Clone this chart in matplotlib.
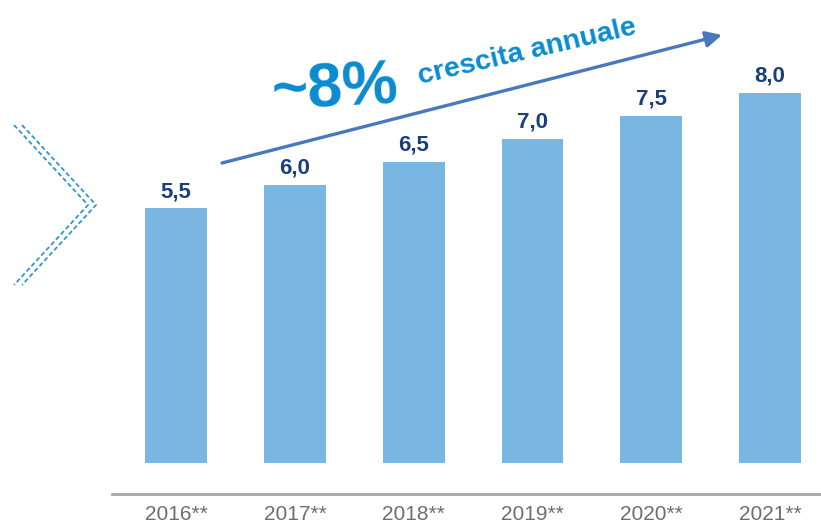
import matplotlib.pyplot as plt

# dati
anni = ["2016**", "2017**", "2018**", "2019**", "2020**", "2021**"]
valori = [5.5, 6.0, 6.5, 7.0, 7.5, 8.0]
etichette = ["5,5", "6,0", "6,5", "7,0", "7,5", "8,0"]

plt.rcParams['font.family'] = ['Liberation Sans', 'DejaVu Sans']

W, H = 821, 523
fig = plt.figure(figsize=(W / 100, H / 100), dpi=100)

# asse principale (in pixel: da x=112 a 821, da y=0 a 494)
ax = fig.add_axes([112 / W, (H - 494) / H, 709 / W, 494 / H])
x = range(len(anni))
bars = ax.bar(x, valori, width=0.52, color="#7AB6E2")
ax.set_xlim(-0.54, 5.43)
ax.set_ylim(-0.67, 10.0)

for b, lab in zip(bars, etichette):
    ax.annotate(lab, (b.get_x() + b.get_width() / 2, b.get_height()),
                xytext=(0, 4.5), textcoords="offset points",
                ha="center", va="bottom", fontsize=16, fontweight="bold",
                color="#183F7E")

ax.set_xticks(list(x))
ax.set_xticklabels(anni, fontsize=15, color="#6E6E6E")
ax.tick_params(axis="x", length=0, pad=8)
ax.set_yticks([])
for s in ["top", "right", "left"]:
    ax.spines[s].set_visible(False)
ax.spines["bottom"].set_color("#A6A6A6")
ax.spines["bottom"].set_linewidth(2)

# sovrapposizione in coordinate pixel
ov = fig.add_axes([0, 0, 1, 1], facecolor="none")
ov.set_xlim(0, W)
ov.set_ylim(H, 0)
ov.axis("off")

# freccia di crescita
ov.annotate("", xy=(722, 35), xytext=(222, 163),
            arrowprops=dict(arrowstyle="-|>", color="#4A78BE", lw=2.4,
                            mutation_scale=24, shrinkA=0, shrinkB=0))
ov.text(272, 110, "~8%", fontsize=45, fontweight="bold", color="#0A8BD0",
        rotation=3, rotation_mode="anchor", ha="left", va="baseline")
ov.text(420, 84, "crescita annuale", fontsize=20.5, fontweight="bold",
        color="#0A8BD0", rotation=13, rotation_mode="anchor",
        ha="left", va="baseline")

# chevron tratteggiato a sinistra
for dx in (0, 8):
    ov.plot([14 + dx, 88 + dx, 14 + dx], [125, 205, 285], color="#2E95D8",
            lw=1.3, linestyle=(0, (2.5, 1.5)))

fig.savefig("out.png", dpi=100)
